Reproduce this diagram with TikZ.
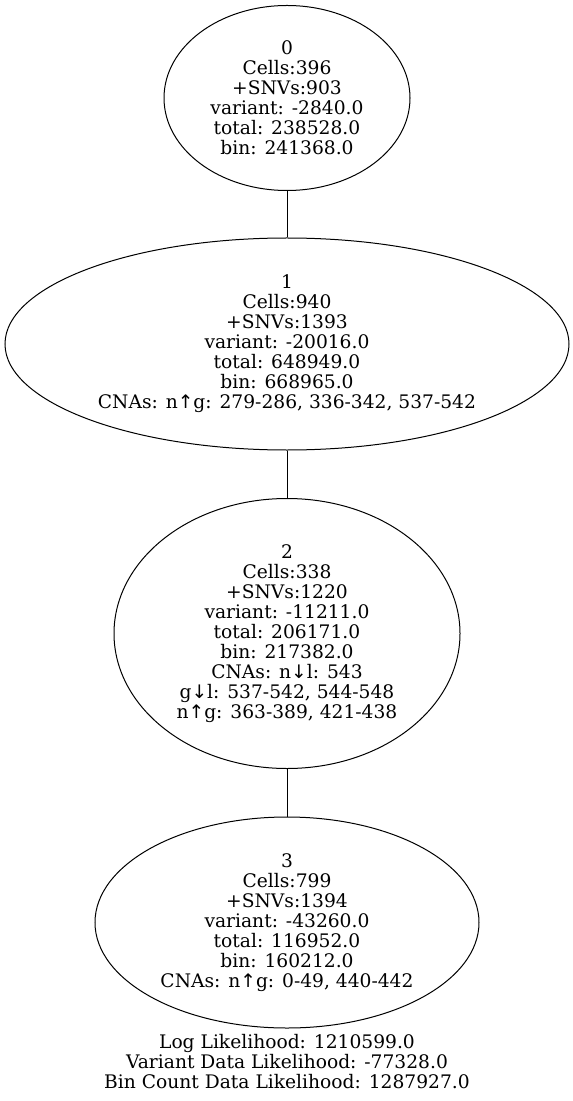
\documentclass[tikz,border=0pt]{standalone}
\usepackage{fontspec}
\setmainfont{DejaVu Serif}
\newfontfamily\arrowfont{DejaVu Sans}
\usetikzlibrary{shapes.geometric}
\newcommand{\up}{{\arrowfont ↑}}
\newcommand{\dn}{{\arrowfont ↓}}
\tikzset{
  blob/.style={draw=black, line width=0.75bp, ellipse, inner sep=0pt},
  txt/.style={align=center, inner sep=0pt, font=\fontsize{14bp}{15bp}\selectfont},
  link/.style={draw=black, line width=0.75bp}
}
\begin{document}
\begin{tikzpicture}[x=0.75bp, y=-0.75bp]
\useasboundingbox (0,0) rectangle (572,1101);
\node[blob, minimum width=184.5bp, minimum height=138.75bp] (n0) at (287,98) {};
\node[blob, minimum width=423bp, minimum height=159bp] (n1) at (287,344) {};
\node[blob, minimum width=259.5bp, minimum height=202.5bp] (n2) at (287,633.5) {};
\node[blob, minimum width=288bp, minimum height=158.25bp] (n3) at (287,922.5) {};
\node[txt] (t0) at (n0.center) {0\\Cells:396\\+SNVs:903\\variant: -2840.0\\total: 238528.0\\bin: 241368.0};
\node[txt] (t1) at (n1.center) {1\\Cells:940\\+SNVs:1393\\variant: -20016.0\\total: 648949.0\\bin: 668965.0\\CNAs: n\up g: 279-286, 336-342, 537-542};
\node[txt] (t2) at (n2.center) {2\\Cells:338\\+SNVs:1220\\variant: -11211.0\\total: 206171.0\\bin: 217382.0\\CNAs: n\dn l: 543\\g\dn l: 537-542, 544-548\\n\up g: 363-389, 421-438};
\node[txt] (t3) at (n3.center) {3\\Cells:799\\+SNVs:1394\\variant: -43260.0\\total: 116952.0\\bin: 160212.0\\CNAs: n\up g: 0-49, 440-442};
\node[txt] (lik) at (287,1062) {Log Likelihood: 1210599.0\\Variant Data Likelihood: -77328.0\\Bin Count Data Likelihood: 1287927.0};
\draw[link] (n0.south) -- (n1.north);
\draw[link] (n1.south) -- (n2.north);
\draw[link] (n2.south) -- (n3.north);
\end{tikzpicture}
\end{document}
